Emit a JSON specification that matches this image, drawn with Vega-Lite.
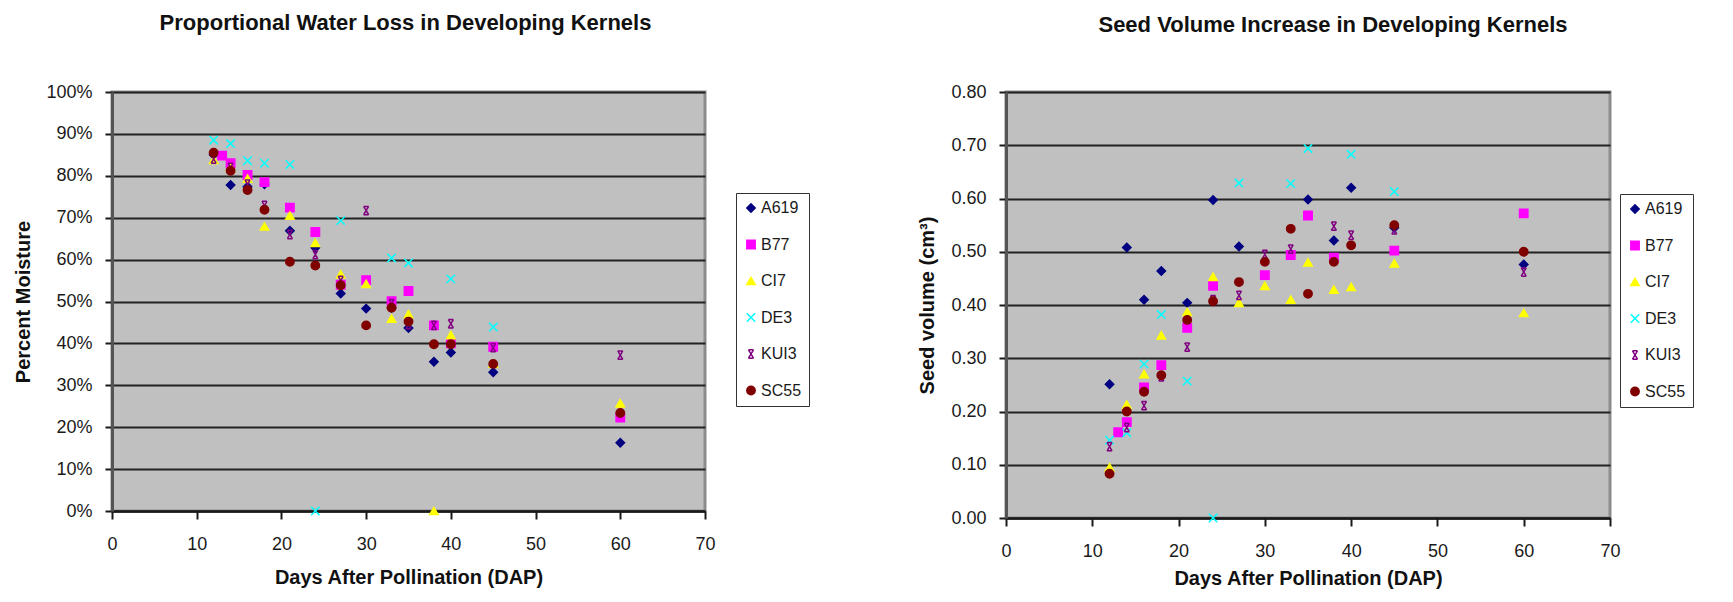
{
  "$schema": "https://vega.github.io/schema/vega-lite/v6.json",
  "background": "white",
  "padding": {"left": 12, "top": 10, "right": 5, "bottom": 5},
  "datasets": {
    "moisture": [
      {"line": "A619", "dap": 12, "value": 0.85},
      {"line": "A619", "dap": 14, "value": 0.778},
      {"line": "A619", "dap": 16, "value": 0.774},
      {"line": "A619", "dap": 18, "value": 0.78},
      {"line": "A619", "dap": 21, "value": 0.669},
      {"line": "A619", "dap": 24, "value": 0.628},
      {"line": "A619", "dap": 27, "value": 0.519},
      {"line": "A619", "dap": 30, "value": 0.483},
      {"line": "A619", "dap": 33, "value": 0.485},
      {"line": "A619", "dap": 35, "value": 0.437},
      {"line": "A619", "dap": 38, "value": 0.356},
      {"line": "A619", "dap": 40, "value": 0.378},
      {"line": "A619", "dap": 45, "value": 0.331},
      {"line": "A619", "dap": 60, "value": 0.163},
      {"line": "B77", "dap": 13, "value": 0.848},
      {"line": "B77", "dap": 14, "value": 0.83},
      {"line": "B77", "dap": 16, "value": 0.802},
      {"line": "B77", "dap": 18, "value": 0.785},
      {"line": "B77", "dap": 21, "value": 0.724},
      {"line": "B77", "dap": 24, "value": 0.666},
      {"line": "B77", "dap": 27, "value": 0.54},
      {"line": "B77", "dap": 30, "value": 0.551},
      {"line": "B77", "dap": 33, "value": 0.501},
      {"line": "B77", "dap": 35, "value": 0.525},
      {"line": "B77", "dap": 38, "value": 0.443},
      {"line": "B77", "dap": 40, "value": 0.4},
      {"line": "B77", "dap": 45, "value": 0.392},
      {"line": "B77", "dap": 60, "value": 0.223},
      {"line": "CI7", "dap": 12, "value": 0.838},
      {"line": "CI7", "dap": 14, "value": 0.82},
      {"line": "CI7", "dap": 16, "value": 0.793},
      {"line": "CI7", "dap": 18, "value": 0.679},
      {"line": "CI7", "dap": 21, "value": 0.705},
      {"line": "CI7", "dap": 24, "value": 0.64},
      {"line": "CI7", "dap": 27, "value": 0.565},
      {"line": "CI7", "dap": 30, "value": 0.542},
      {"line": "CI7", "dap": 33, "value": 0.459},
      {"line": "CI7", "dap": 35, "value": 0.47},
      {"line": "CI7", "dap": 38, "value": 0.0},
      {"line": "CI7", "dap": 40, "value": 0.42},
      {"line": "CI7", "dap": 45, "value": 0.352},
      {"line": "CI7", "dap": 60, "value": 0.257},
      {"line": "DE3", "dap": 12, "value": 0.885},
      {"line": "DE3", "dap": 14, "value": 0.877},
      {"line": "DE3", "dap": 16, "value": 0.836},
      {"line": "DE3", "dap": 18, "value": 0.83},
      {"line": "DE3", "dap": 21, "value": 0.827},
      {"line": "DE3", "dap": 24, "value": 0.0},
      {"line": "DE3", "dap": 27, "value": 0.693},
      {"line": "DE3", "dap": 33, "value": 0.604},
      {"line": "DE3", "dap": 35, "value": 0.592},
      {"line": "DE3", "dap": 40, "value": 0.554},
      {"line": "DE3", "dap": 45, "value": 0.439},
      {"line": "KUI3", "dap": 12, "value": 0.84},
      {"line": "KUI3", "dap": 14, "value": 0.82},
      {"line": "KUI3", "dap": 16, "value": 0.78},
      {"line": "KUI3", "dap": 18, "value": 0.729},
      {"line": "KUI3", "dap": 21, "value": 0.66},
      {"line": "KUI3", "dap": 24, "value": 0.612},
      {"line": "KUI3", "dap": 27, "value": 0.55},
      {"line": "KUI3", "dap": 30, "value": 0.717},
      {"line": "KUI3", "dap": 33, "value": 0.495},
      {"line": "KUI3", "dap": 35, "value": 0.445},
      {"line": "KUI3", "dap": 38, "value": 0.443},
      {"line": "KUI3", "dap": 40, "value": 0.447},
      {"line": "KUI3", "dap": 45, "value": 0.39},
      {"line": "KUI3", "dap": 60, "value": 0.372},
      {"line": "SC55", "dap": 12, "value": 0.855},
      {"line": "SC55", "dap": 14, "value": 0.812},
      {"line": "SC55", "dap": 16, "value": 0.766},
      {"line": "SC55", "dap": 18, "value": 0.719},
      {"line": "SC55", "dap": 21, "value": 0.595},
      {"line": "SC55", "dap": 24, "value": 0.586},
      {"line": "SC55", "dap": 27, "value": 0.539},
      {"line": "SC55", "dap": 30, "value": 0.443},
      {"line": "SC55", "dap": 33, "value": 0.485},
      {"line": "SC55", "dap": 35, "value": 0.452},
      {"line": "SC55", "dap": 38, "value": 0.398},
      {"line": "SC55", "dap": 40, "value": 0.398},
      {"line": "SC55", "dap": 45, "value": 0.351},
      {"line": "SC55", "dap": 60, "value": 0.234}
    ],
    "volume": [
      {"line": "A619", "dap": 12, "value": 0.251},
      {"line": "A619", "dap": 14, "value": 0.508},
      {"line": "A619", "dap": 16, "value": 0.41},
      {"line": "A619", "dap": 18, "value": 0.464},
      {"line": "A619", "dap": 21, "value": 0.404},
      {"line": "A619", "dap": 24, "value": 0.597},
      {"line": "A619", "dap": 27, "value": 0.51},
      {"line": "A619", "dap": 35, "value": 0.598},
      {"line": "A619", "dap": 38, "value": 0.521},
      {"line": "A619", "dap": 40, "value": 0.62},
      {"line": "A619", "dap": 45, "value": 0.545},
      {"line": "A619", "dap": 60, "value": 0.476},
      {"line": "B77", "dap": 13, "value": 0.161},
      {"line": "B77", "dap": 14, "value": 0.18},
      {"line": "B77", "dap": 16, "value": 0.245},
      {"line": "B77", "dap": 18, "value": 0.287},
      {"line": "B77", "dap": 21, "value": 0.357},
      {"line": "B77", "dap": 24, "value": 0.436},
      {"line": "B77", "dap": 30, "value": 0.456},
      {"line": "B77", "dap": 33, "value": 0.494},
      {"line": "B77", "dap": 35, "value": 0.568},
      {"line": "B77", "dap": 38, "value": 0.489},
      {"line": "B77", "dap": 45, "value": 0.502},
      {"line": "B77", "dap": 60, "value": 0.572},
      {"line": "CI7", "dap": 12, "value": 0.095},
      {"line": "CI7", "dap": 14, "value": 0.213},
      {"line": "CI7", "dap": 16, "value": 0.27},
      {"line": "CI7", "dap": 18, "value": 0.343},
      {"line": "CI7", "dap": 21, "value": 0.387},
      {"line": "CI7", "dap": 24, "value": 0.453},
      {"line": "CI7", "dap": 27, "value": 0.404},
      {"line": "CI7", "dap": 30, "value": 0.436},
      {"line": "CI7", "dap": 33, "value": 0.41},
      {"line": "CI7", "dap": 35, "value": 0.48},
      {"line": "CI7", "dap": 38, "value": 0.429},
      {"line": "CI7", "dap": 40, "value": 0.434},
      {"line": "CI7", "dap": 45, "value": 0.478},
      {"line": "CI7", "dap": 60, "value": 0.385},
      {"line": "DE3", "dap": 12, "value": 0.146},
      {"line": "DE3", "dap": 14, "value": 0.16},
      {"line": "DE3", "dap": 16, "value": 0.289},
      {"line": "DE3", "dap": 18, "value": 0.382},
      {"line": "DE3", "dap": 21, "value": 0.257},
      {"line": "DE3", "dap": 24, "value": 0.0},
      {"line": "DE3", "dap": 27, "value": 0.629},
      {"line": "DE3", "dap": 33, "value": 0.628},
      {"line": "DE3", "dap": 35, "value": 0.694},
      {"line": "DE3", "dap": 40, "value": 0.683},
      {"line": "DE3", "dap": 45, "value": 0.613},
      {"line": "KUI3", "dap": 12, "value": 0.134},
      {"line": "KUI3", "dap": 14, "value": 0.17},
      {"line": "KUI3", "dap": 16, "value": 0.211},
      {"line": "KUI3", "dap": 18, "value": 0.265},
      {"line": "KUI3", "dap": 21, "value": 0.321},
      {"line": "KUI3", "dap": 24, "value": 0.41},
      {"line": "KUI3", "dap": 27, "value": 0.418},
      {"line": "KUI3", "dap": 30, "value": 0.495},
      {"line": "KUI3", "dap": 33, "value": 0.505},
      {"line": "KUI3", "dap": 38, "value": 0.548},
      {"line": "KUI3", "dap": 40, "value": 0.531},
      {"line": "KUI3", "dap": 45, "value": 0.541},
      {"line": "KUI3", "dap": 60, "value": 0.462},
      {"line": "SC55", "dap": 12, "value": 0.083},
      {"line": "SC55", "dap": 14, "value": 0.2},
      {"line": "SC55", "dap": 16, "value": 0.237},
      {"line": "SC55", "dap": 18, "value": 0.268},
      {"line": "SC55", "dap": 21, "value": 0.372},
      {"line": "SC55", "dap": 24, "value": 0.407},
      {"line": "SC55", "dap": 27, "value": 0.443},
      {"line": "SC55", "dap": 30, "value": 0.481},
      {"line": "SC55", "dap": 33, "value": 0.543},
      {"line": "SC55", "dap": 35, "value": 0.421},
      {"line": "SC55", "dap": 38, "value": 0.481},
      {"line": "SC55", "dap": 40, "value": 0.512},
      {"line": "SC55", "dap": 45, "value": 0.55},
      {"line": "SC55", "dap": 60, "value": 0.5}
    ]
  },
  "config": {
    "font": "Liberation Sans",
    "view": {"fill": "#c0c0c0", "stroke": "#8c8c8c", "strokeWidth": 3},
    "title": {"fontSize": 22, "fontWeight": "bold", "color": "#111", "anchor": "middle", "frame": "group"},
    "axis": {
      "labelFont": "Liberation Sans",
      "labelFontSize": 18,
      "labelColor": "#1a1a1a",
      "titleFont": "Liberation Sans",
      "titleFontSize": 20,
      "titleFontWeight": "bold",
      "titleColor": "#111",
      "tickColor": "#1a1a1a",
      "tickWidth": 2
    },
    "axisX": {
      "domainColor": "#1a1a1a",
      "domainWidth": 2.5,
      "tickSize": 8,
      "labelPadding": 16,
      "titlePadding": 14,
      "grid": false,
      "labelFlush": false
    },
    "axisY": {
      "domainColor": "#555",
      "domainWidth": 3,
      "tickSize": 7,
      "labelPadding": 13,
      "titlePadding": 12,
      "grid": true,
      "gridColor": "#222",
      "gridWidth": 2,
      "gridOpacity": 1
    },
    "legend": {
      "orient": "none",
      "direction": "vertical",
      "title": null,
      "labelFont": "Liberation Sans",
      "labelFontSize": 16,
      "labelColor": "#1a1a1a",
      "labelOffset": 2,
      "symbolSize": 70,
      "symbolStrokeWidth": 1.5,
      "rowPadding": 20.5,
      "padding": 7,
      "strokeColor": "#333",
      "fillColor": "white"
    }
  },
  "resolve": {"legend": {"fill": "independent", "stroke": "independent", "shape": "independent"}},
  "spacing": 105,
  "hconcat": [
    {
      "width": 593,
      "height": 419,
      "title": {"text": "Proportional Water Loss in Developing Kernels", "offset": 48, "dx": -3},
      "data": {"name": "moisture"},
      "mark": {"type": "point", "filled": true, "size": 70, "strokeWidth": 1.5, "opacity": 1},
      "encoding": {
        "x": {
          "field": "dap", "type": "quantitative",
          "scale": {"domain": [0, 70], "nice": false},
          "axis": {"values": [0, 10, 20, 30, 40, 50, 60, 70], "title": "Days After Pollination (DAP)"}
        },
        "y": {
          "field": "value", "type": "quantitative",
          "scale": {"domain": [0, 1], "nice": false},
          "axis": {"values": [0, 0.1, 0.2, 0.3, 0.4, 0.5, 0.6, 0.7, 0.8, 0.9, 1], "format": ".0%", "title": "Percent Moisture"}
        },
        "fill": {
          "field": "line", "type": "nominal",
          "scale": {"domain": ["A619", "B77", "CI7", "DE3", "KUI3", "SC55"], "range": ["#000080", "#ff00ff", "#ffff00", "#00ffff", "#800080", "#800000"]},
          "legend": {"legendX": 624, "legendY": 101}
        },
        "stroke": {
          "field": "line", "type": "nominal",
          "scale": {"domain": ["A619", "B77", "CI7", "DE3", "KUI3", "SC55"], "range": ["#000080", "#ff00ff", "#ffff00", "#00ffff", "#800080", "#800000"]},
          "legend": {"legendX": 624, "legendY": 101}
        },
        "shape": {
          "field": "line", "type": "nominal",
          "scale": {"domain": ["A619", "B77", "CI7", "DE3", "KUI3", "SC55"], "range": ["diamond", "square", "triangle-up", "M-1,-1L1,1M-1,1L1,-1", "M-0.6,-1L0.6,-1M-0.6,1L0.6,1M-0.6,-1L0.6,1M0.6,-1L-0.6,1", "circle"]},
          "legend": {"legendX": 624, "legendY": 101}
        }
      }
    },
    {
      "width": 604,
      "height": 426,
      "title": {"text": "Seed Volume Increase in Developing Kernels", "offset": 46, "dx": 25},
      "data": {"name": "volume"},
      "mark": {"type": "point", "filled": true, "size": 70, "strokeWidth": 1.5, "opacity": 1},
      "encoding": {
        "x": {
          "field": "dap", "type": "quantitative",
          "scale": {"domain": [0, 70], "nice": false},
          "axis": {"values": [0, 10, 20, 30, 40, 50, 60, 70], "title": "Days After Pollination (DAP)", "titlePadding": 8}
        },
        "y": {
          "field": "value", "type": "quantitative",
          "scale": {"domain": [0, 0.8], "nice": false},
          "axis": {"values": [0, 0.1, 0.2, 0.3, 0.4, 0.5, 0.6, 0.7, 0.8], "format": ".2f", "title": "Seed volume (cm³)", "titlePadding": 13}
        },
        "fill": {
          "field": "line", "type": "nominal",
          "scale": {"domain": ["A619", "B77", "CI7", "DE3", "KUI3", "SC55"], "range": ["#000080", "#ff00ff", "#ffff00", "#00ffff", "#800080", "#800000"]},
          "legend": {"legendX": 614, "legendY": 102}
        },
        "stroke": {
          "field": "line", "type": "nominal",
          "scale": {"domain": ["A619", "B77", "CI7", "DE3", "KUI3", "SC55"], "range": ["#000080", "#ff00ff", "#ffff00", "#00ffff", "#800080", "#800000"]},
          "legend": {"legendX": 614, "legendY": 102}
        },
        "shape": {
          "field": "line", "type": "nominal",
          "scale": {"domain": ["A619", "B77", "CI7", "DE3", "KUI3", "SC55"], "range": ["diamond", "square", "triangle-up", "M-1,-1L1,1M-1,1L1,-1", "M-0.6,-1L0.6,-1M-0.6,1L0.6,1M-0.6,-1L0.6,1M0.6,-1L-0.6,1", "circle"]},
          "legend": {"legendX": 614, "legendY": 102}
        }
      }
    }
  ]
}
